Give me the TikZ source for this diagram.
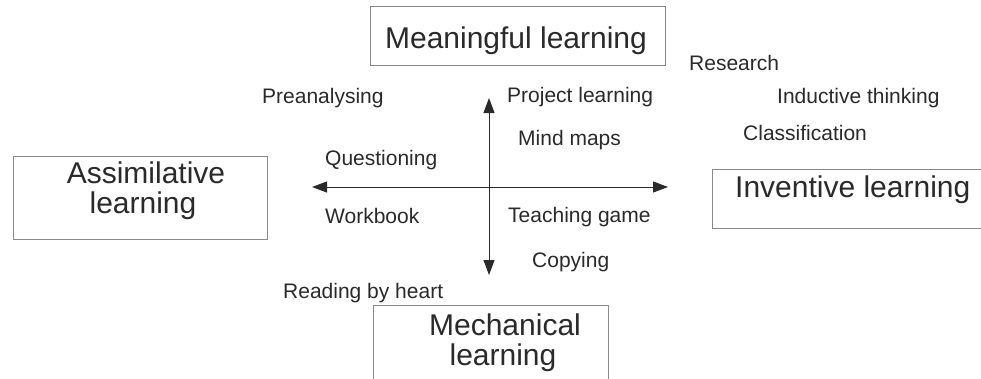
\documentclass[tikz,border=0pt]{standalone}
\usepackage{fontspec}
\setmainfont{Liberation Sans}
\usetikzlibrary{arrows.meta}
\definecolor{ink}{HTML}{2A2A2A}
\definecolor{frame}{HTML}{8A8A8A}
\begin{document}
\begin{tikzpicture}[x=1pt,y=-1pt,
  box/.style={draw=frame, line width=1.3pt, fill=white, inner sep=0pt, anchor=north west},
  boxtext/.style={text=ink, font=\fontsize{30}{30}\selectfont, inner sep=0pt, align=center},
  item/.style={text=ink, font=\fontsize{21}{21}\selectfont, inner sep=0pt, anchor=base west},
  axis/.style={draw=ink, line width=1pt, -{Triangle[length=15pt,width=11pt]}}]
\clip (0,0) rectangle (981,378);
\fill[white] (0,0) rectangle (981,378);

% four corner boxes
\node[box, minimum width=295pt, minimum height=59pt] (meaning) at (370,6) {};
\node[boxtext, anchor=base] (meaningT) at (516,48) {Meaningful learning};

\node[box, minimum width=254pt, minimum height=83pt] (assim) at (13,156) {};
\node[boxtext, anchor=base] (assimA) at (146,183) {Assimilative};
\node[boxtext, anchor=base] (assimB) at (143,213) {learning};

\node[box, minimum width=290pt, minimum height=59pt] (invent) at (712,169) {};
\node[boxtext, anchor=base west] (inventT) at (735,197) {Inventive learning};

\node[box, minimum width=235pt, minimum height=90pt] (mech) at (373,305) {};
\node[boxtext, anchor=base] (mechA) at (505,335) {Mechanical};
\node[boxtext, anchor=base] (mechB) at (503,365) {learning};

% axes
\coordinate (c) at (489,187);
\coordinate (up) at (489,98);
\coordinate (down) at (489,275);
\coordinate (left) at (312,187);
\coordinate (right) at (668,187);
\draw[axis] (c) -- (up);
\draw[axis] (c) -- (down);
\draw[axis] (c) -- (left);
\draw[axis] (c) -- (right);

% methods
\node[item] (research) at (689,70) {Research};
\node[item] (pre) at (262,103) {Preanalysing};
\node[item] (project) at (507,102) {Project learning};
\node[item] (induct) at (777,103) {Inductive thinking};
\node[item] (mind) at (518,145) {Mind maps};
\node[item] (classif) at (743,140) {Classification};
\node[item] (quest) at (325,165) {Questioning};
\node[item] (work) at (325,223) {Workbook};
\node[item] (game) at (508,222) {Teaching game};
\node[item] (copy) at (532,267) {Copying};
\node[item] (heart) at (283,298) {Reading by heart};
\end{tikzpicture}
\end{document}
